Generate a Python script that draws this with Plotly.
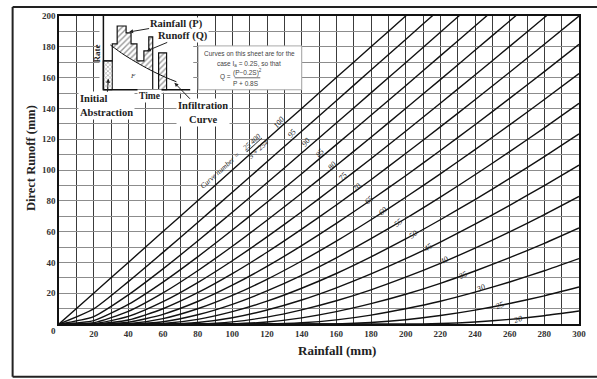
import plotly.graph_objects as go

# ---------------- data ----------------
rainfall_mm = [0, 20, 40, 60, 80, 100, 120, 140, 160, 180, 200, 220, 240, 260, 280, 300]
curve_numbers = [100, 95, 90, 85, 80, 75, 70, 65, 60, 55, 50, 45, 40, 35, 30, 25, 20]

runoff_cn100 = [0, 20, 40, 60, 80, 100, 120, 140, 160, 180, 200, 220, 240, 260, 280, 300]
runoff_cn95 = [0, 9.8, 27.5, 46.5, 65.9, 85.6, 105.3, 125.2, 145.0, 164.9, 184.8, 204.7, 224.7, 244.6, 264.5, 284.5]
runoff_cn90 = [0, 4.8, 18.9, 35.8, 53.9, 72.6, 91.7, 111.0, 130.5, 150.1, 169.7, 189.4, 209.2, 229.0, 248.8, 268.6]
runoff_cn85 = [0, 2.2, 12.7, 27.2, 43.6, 61.0, 79.1, 97.6, 116.5, 135.5, 154.7, 174.1, 193.5, 213.0, 232.6, 252.2]
runoff_cn80 = [0, 0.8, 8.2, 20.2, 34.6, 50.5, 67.4, 84.9, 102.9, 121.3, 139.9, 158.7, 177.7, 196.8, 216.0, 235.3]
runoff_cn75 = [0, 0.1, 4.9, 14.5, 26.9, 41.1, 56.6, 72.9, 89.9, 107.3, 125.2, 143.3, 161.7, 180.3, 199.0, 217.9]
runoff_cn70 = [0, 0, 2.6, 9.9, 20.3, 32.7, 46.6, 61.6, 77.3, 93.7, 110.7, 128.0, 145.6, 163.5, 181.7, 200.0]
runoff_cn65 = [0, 0, 1.1, 6.3, 14.6, 25.2, 37.4, 50.9, 65.3, 80.5, 96.3, 112.7, 129.4, 146.5, 163.9, 181.6]
runoff_cn60 = [0, 0, 0.2, 3.5, 9.9, 18.6, 29.0, 40.9, 53.8, 67.7, 82.3, 97.5, 113.2, 129.3, 145.8, 162.6]
runoff_cn55 = [0, 0, 0, 1.5, 6.0, 12.8, 21.5, 31.6, 43.0, 55.4, 68.5, 82.4, 96.9, 111.9, 127.4, 143.3]
runoff_cn50 = [0, 0, 0, 0.3, 3.0, 8.0, 14.8, 23.2, 32.8, 43.6, 55.2, 67.7, 80.8, 94.5, 108.7, 123.4]
runoff_cn45 = [0, 0, 0, 0, 1.0, 4.1, 9.1, 15.6, 23.5, 32.5, 42.4, 53.2, 64.8, 77.1, 89.9, 103.2]
runoff_cn40 = [0, 0, 0, 0, 0, 1.4, 4.5, 9.2, 15.1, 22.2, 30.4, 39.4, 49.3, 59.8, 71.0, 82.8]
runoff_cn35 = [0, 0, 0, 0, 0, 0.1, 1.3, 4.0, 8.0, 13.2, 19.3, 26.4, 34.4, 43.1, 52.4, 62.4]
runoff_cn30 = [0, 0, 0, 0, 0, 0, 0, 0.8, 2.7, 5.8, 9.9, 14.8, 20.7, 27.3, 34.6, 42.5]
runoff_cn25 = [0, 0, 0, 0, 0, 0, 0, 0, 0.1, 1.0, 2.8, 5.5, 9.0, 13.3, 18.3, 24.0]
runoff_cn20 = [0, 0, 0, 0, 0, 0, 0, 0, 0, 0, 0, 0.3, 1.3, 3.0, 5.4, 8.4]

runoff_by_cn = [runoff_cn100, runoff_cn95, runoff_cn90, runoff_cn85, runoff_cn80,
                runoff_cn75, runoff_cn70, runoff_cn65, runoff_cn60, runoff_cn55,
                runoff_cn50, runoff_cn45, runoff_cn40, runoff_cn35, runoff_cn30,
                runoff_cn25, runoff_cn20]

# where each curve-number label sits (rainfall, runoff)
label_rainfall = [126.9, 134.3, 142.3, 150.3, 157.7, 163.9, 171.9, 178.7, 186.7,
                  195.8, 204.3, 212.9, 222.0, 232.8, 243.0, 254.4, 264.7]
label_runoff = [130.7, 123.6, 117.8, 110.7, 102.9, 95.8, 88.7, 80.3, 73.1,
                66.0, 58.3, 49.8, 41.4, 31.7, 23.3, 11.7, 3.2]

x_tick_labels = [20, 40, 60, 80, 100, 120, 140, 160, 180, 200, 220, 240, 260, 280, 300]
y_tick_labels = [20, 40, 60, 80, 100, 120, 140, 160, 180, 200]

# inset sketch (time / rate, arbitrary units)
sketch_time = [0, 0, 9.5, 9.5, 14.7, 14.7, 24.2, 24.2, 29.5, 29.5, 35.8, 35.8, 43.2, 43.2, 48.4, 48.4, 52.6, 52.6]
sketch_rate = [0, 37.7, 37.7, 59.7, 59.7, 83.1, 83.1, 74.0, 74.0, 59.7, 59.7, 37.7, 37.7, 50.6, 50.6, 68.8, 68.8, 0]
late_burst_time = [58.9, 58.9, 67.4, 67.4, 58.9]
late_burst_rate = [0, 48.1, 48.1, 0, 0]
infiltration_time = [7.4, 22.1, 37.9, 53.7, 67.4, 77.9]
infiltration_rate = [58.4, 45.5, 33.8, 23.4, 15.6, 10.4]
runoff_area_time = [9.5, 9.5, 14.7, 14.7, 24.2, 24.2, 29.5, 29.5, 35.8, 35.8, 43.2, 43.2, 48.4, 48.4, 52.6, 52.6, 37.9, 22.1, 9.5]
runoff_area_rate = [56.6, 59.7, 59.7, 83.1, 83.1, 74.0, 74.0, 59.7, 59.7, 37.7, 37.7, 50.6, 50.6, 68.8, 68.8, 24.1, 33.8, 45.5, 56.6]
abstraction_time = [0, 0, 9.5, 9.5, 0]
abstraction_rate = [0, 37.7, 37.7, 0, 0]
sketch_axis_time = [0, 0, 92.6]
sketch_axis_rate = [96.1, 0, 0]

# ---------------- styles ----------------
SERIF = "Liberation Serif, Times New Roman, serif"
SANS = "Liberation Sans, Arial, sans-serif"
label_angles = [-50, -50, -50, -50, -48, -46, -45, -43, -41, -39, -36, -34, -31, -29, -26, -22, -18]

fig = go.Figure()

for cn, q in zip(curve_numbers, runoff_by_cn):
    fig.add_trace(go.Scatter(
        x=rainfall_mm, y=q, mode="lines", name=f"CN {cn}",
        line=dict(color="#111111", width=1.4, shape="spline", smoothing=0.6),
        hoverinfo="skip", xaxis="x", yaxis="y"))

# inset traces
hatch = dict(shape="/", fgcolor="#333333", bgcolor="white", size=4, solidity=0.35)
fig.add_trace(go.Scatter(x=abstraction_time, y=abstraction_rate, mode="lines",
                         fill="toself", fillcolor="white",
                         fillpattern=dict(shape="x", fgcolor="#333333", bgcolor="white", size=3, solidity=0.35),
                         line=dict(color="#111111", width=1), xaxis="x2", yaxis="y2", hoverinfo="skip"))
fig.add_trace(go.Scatter(x=runoff_area_time, y=runoff_area_rate, mode="lines",
                         fill="toself", fillcolor="white", fillpattern=hatch,
                         line=dict(color="rgba(0,0,0,0)", width=0), xaxis="x2", yaxis="y2", hoverinfo="skip"))
fig.add_trace(go.Scatter(x=late_burst_time, y=late_burst_rate, mode="lines",
                         fill="toself", fillcolor="white", fillpattern=hatch,
                         line=dict(color="#111111", width=1.2), xaxis="x2", yaxis="y2", hoverinfo="skip"))
fig.add_trace(go.Scatter(x=sketch_time, y=sketch_rate, mode="lines",
                         line=dict(color="#111111", width=1.2), xaxis="x2", yaxis="y2", hoverinfo="skip"))
fig.add_trace(go.Scatter(x=infiltration_time, y=infiltration_rate, mode="lines",
                         line=dict(color="#111111", width=1, shape="spline"), xaxis="x2", yaxis="y2", hoverinfo="skip"))
fig.add_trace(go.Scatter(x=sketch_axis_time, y=sketch_axis_rate, mode="lines",
                         line=dict(color="#111111", width=1.5), xaxis="x2", yaxis="y2", hoverinfo="skip"))

x_grid_vals = list(range(0, 301, 10))
y_grid_vals = list(range(0, 201, 10))

fig.update_layout(
    width=597, height=379,
    margin=dict(l=59, r=11, t=15, b=55),
    paper_bgcolor="white", plot_bgcolor="white",
    showlegend=False,
    xaxis=dict(range=[0, 300], tickmode="array", tickvals=x_grid_vals,
               ticktext=[str(v) if v in x_tick_labels else "" for v in x_grid_vals],
               showgrid=True, gridcolor="#3c3c3c", gridwidth=1.1,
               showline=True, linecolor="#111111", linewidth=1.6, mirror=True,
               ticks="", zeroline=False,
               tickfont=dict(family=SERIF, size=9, color="#333333", weight="bold"),
               domain=[0, 1], anchor="y"),
    yaxis=dict(range=[0, 200], tickmode="array", tickvals=y_grid_vals,
               ticktext=[str(v) if v in y_tick_labels else "" for v in y_grid_vals],
               showgrid=True, gridcolor="#8c8c8c", gridwidth=1,
               showline=True, linecolor="#111111", linewidth=1.6, mirror=True,
               ticks="", zeroline=False,
               tickfont=dict(family=SERIF, size=9, color="#333333", weight="bold"),
               domain=[0, 1], anchor="x"),
    xaxis2=dict(domain=[0.0778, 0.2581], range=[-4.2, 95.8], visible=False, anchor="y2"),
    yaxis2=dict(domain=[0.7508, 1.0], range=[-3.9, 96.1], visible=False, anchor="x2"),
)

ann = []


def paper_text(x, y, text, font, **kw):
    d = dict(x=x, y=y, xref="paper", yref="paper", text=text, showarrow=False,
             xanchor="center", yanchor="middle", font=font)
    d.update(kw)
    ann.append(d)


# curve number labels
for cn, lp, lq, ang in zip(curve_numbers, label_rainfall, label_runoff, label_angles):
    ann.append(dict(x=lp, y=lq, xref="x", yref="y", text=str(cn), showarrow=False,
                    xanchor="center", yanchor="middle", textangle=ang,
                    font=dict(family=SERIF, size=8, color="#222222", style="italic")))

ann.append(dict(x=92.8, y=99.7, xref="x", yref="y", text="Curve number =", showarrow=False,
                xanchor="center", yanchor="middle", textangle=-42,
                font=dict(family=SERIF, size=7.5, color="#222222", style="italic")))
ann.append(dict(x=113.3, y=115.9, xref="x", yref="y", text="<u>25 400</u><br>S + 254", showarrow=False,
                xanchor="center", yanchor="middle", textangle=-42,
                font=dict(family=SERIF, size=7.5, color="#222222", style="italic")))

# axis titles and origin label
paper_text(0.535, -0.0874, "Rainfall (mm)", dict(family=SERIF, size=13, color="#222222", weight="bold"))
paper_text(-0.055, 0.54, "Direct Runoff (mm)", dict(family=SERIF, size=12.5, color="#222222", weight="bold"),
           textangle=-90)
paper_text(-0.0114, -0.0227, "0", dict(family=SERIF, size=9, color="#333333", weight="bold"))

# formula box text
ftxt = dict(family=SANS, size=6.5, color="#444444")
paper_text(0.3662, 0.877, "Curves on this sheet are for the", ftxt)
paper_text(0.3662, 0.8447, "case I<sub>a</sub> = 0.2S, so that", ftxt)
paper_text(0.3624, 0.8155, "(P\u22120.2S)<sup>2</sup>", ftxt)
paper_text(0.3207, 0.8026, "Q =", ftxt)
paper_text(0.3605, 0.7799, "P + 0.8S", ftxt)

# inset labels
lab = dict(family=SERIF, size=10.5, color="#222222", weight="bold")
ann.append(dict(x=27.4, y=75.3, xref="x2", yref="y2", text="Rainfall (P)", showarrow=True,
                ax=47, ay=-8, arrowhead=2, arrowsize=0.8, arrowwidth=1, arrowcolor="#222222",
                bgcolor="white", borderpad=0, font=lab))
ann.append(dict(x=46.3, y=50.6, xref="x2", yref="y2", text="Runoff (Q)", showarrow=True,
                ax=36, ay=-15, arrowhead=2, arrowsize=0.8, arrowwidth=1, arrowcolor="#222222",
                bgcolor="white", borderpad=0, font=lab))
ann.append(dict(x=75.8, y=9.1, xref="x2", yref="y2", text="Infiltration<br>Curve", showarrow=True,
                ax=29, ay=30, arrowhead=2, arrowsize=0.8, arrowwidth=1, arrowcolor="#222222",
                bgcolor="white", borderpad=1, font=lab))
ann.append(dict(x=5.3, y=14.3, xref="x2", yref="y2", text="Initial<br>Abstraction", showarrow=True,
                ax=-2, ay=27, align="left", arrowhead=2, arrowsize=0.8, arrowwidth=1, arrowcolor="#222222",
                bgcolor="white", borderpad=1, font=lab))
paper_text(0.0721, 0.88, "Rate", dict(family=SERIF, size=9, color="#222222", weight="bold"), textangle=-90)
paper_text(0.1746, 0.741, "Time", dict(family=SERIF, size=9.5, color="#222222", weight="bold"), bgcolor="white")
ann.append(dict(x=31.6, y=18.2, xref="x2", yref="y2", text="F", showarrow=False,
                font=dict(family=SERIF, size=7, color="#333333", style="italic")))

fig.update_layout(annotations=ann)

# formula box, fraction bar and outer frame (left, top, bottom edges)
fig.add_shape(type="rect", xref="paper", yref="paper", x0=0.2676, x1=0.4668, y0=0.7605, y1=0.9029,
              fillcolor="white", line=dict(color="#aaaaaa", width=1), layer="above")
fig.add_shape(type="line", xref="paper", yref="paper", x0=0.3378, x1=0.3871, y0=0.7994, y1=0.7994,
              line=dict(color="#444444", width=0.8), layer="above")
frame = dict(color="#222222", width=2)
fig.add_shape(type="line", xref="paper", yref="paper", x0=-0.0892, x1=-0.0892, y0=-0.1715, y1=1.0291,
              line=frame, layer="above")
fig.add_shape(type="line", xref="paper", yref="paper", x0=-0.0892, x1=1.05, y0=1.0291, y1=1.0291,
              line=frame, layer="above")
fig.add_shape(type="line", xref="paper", yref="paper", x0=-0.0892, x1=1.05, y0=-0.1715, y1=-0.1715,
              line=frame, layer="above")

fig.write_html("out.html")
